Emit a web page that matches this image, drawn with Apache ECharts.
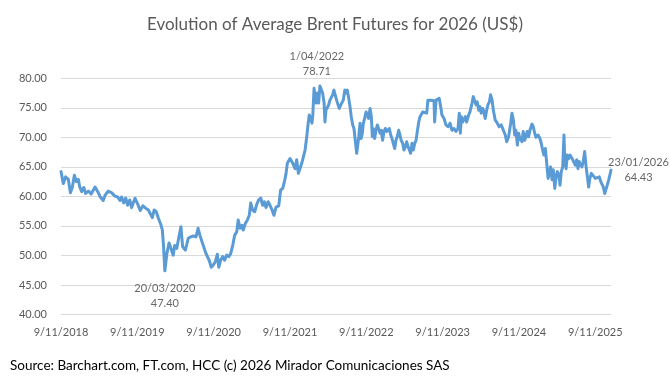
<!DOCTYPE html>
<html>
<head>
<meta charset="utf-8">
<script src="https://cdn.jsdelivr.net/npm/echarts@6/dist/echarts.min.js"></script>
<style>
html,body{margin:0;padding:0;background:#fff;}
#chart{width:670px;height:380px;}
</style>
</head>
<body>
<div id="chart"></div>
<script>
// Days since 9/11/2018 (weekly Friday series)
const dayOffsets = [
  0,11,22,35,45,54,64,73,83,89,
  99,109,118,131,144,155,163,176,188,202,
  211,226,243,258,271,282,290,300,310,319,
  329,338,354,367,379,392,405,418,427,437,
  446,456,466,479,485,490,497,507,517,526,
  537,
  544,554,563,574,582,595,609,621,633,646,
  656,665,675,684,694,703,710,719,729,738,
  748,755,764,774,783,793,803,812,822,831,
  841,848,857,866,872,882,892,901,908,917,
  927,937,946,956,965,973,981,991,1000,1010,
  1019,1029,1042,1051,1061,1071,1077,1083,1090,
  1096,1109,1120,1128,1136,1144,1152,1160,1168,1176,
  1183,1188,1195,1201,1205,1211,1216,1220,1227,1233,
  1239,1246,1252,1259,1263,1268,1274,1281,1287,1294,
  1300,1306,1313,1319,1326,1332,1339,1345,1351,1358,
  1364,1370,1377,1383,1389,1396,1402,1408,1415,1420,
  1425,1431,1436,1442,1447,1453,1460,1466,1472,1479,
  1485,1490,1494,1501,1507,1514,1520,1527,1533,1539,
  1546,1552,1559,1565,1571,1578,1584,1590,1597,1603,
  1609,1616,1622,1628,1635,1641,1648,1654,1661,1667,
  1673,1680,1686,1693,1699,1705,1712,
  1718,1731,1740,1750,1756,1766,1775,1785,1788,1795,
  1804,1810,1817,1823,1833,1842,1852,1862,1871,1881,
  1890,1900,1906,1911,1916,1922,1929,1935,1941,1951,
  1957,1967,1973,1980,1986,1992,1999,2005,2011,2018,
  2024,2030,2037,2043,2050,2056,2063,2069,2078,2088,
  2097,2107,2117,2126,2133,2142,2152,2158,2165,2171,
  2177,2184,2190,
  2196,2206,2212,2219,2225,2231,2238,2244,2254,2260,
  2267,2273,2283,2292,2298,2305,2311,2318,2324,2331,
  2337,2343,2350,2356,2363,2369,2375,2382,2388,2394,
  2401,2407,2410,2417,2423,2430,2436,2442,2449,2455,
  2461,2468,2474,2480,2487,2493,2499,2506,2512,2519,
  2525,2531,2538,2547,2557,2566,2576,2583,2589,2595,
  2602,2608,2614,2621,2632
];
// Average Brent futures for 2026 (US$)
const prices = [
  64.2,62.2,63.3,62.9,60.6,61.5,63.6,62.5,62.9,61.7,
  60.8,61.5,60.5,60.9,60.4,61.1,61.6,60.8,59.9,59.3,
  60.2,60.9,60.6,60.05,59.9,59.3,59.9,58.9,59.7,58.5,
  59.4,58.1,59.7,58.7,57.6,58.4,58.0,57.7,58.0,56.4,
  57.7,57.4,56.3,55.1,54.3,52.0,47.4,50.4,52.1,51.2,
  50.05,
  51.7,51.2,52.9,54.85,51.5,50.9,52.9,53.15,53.3,53.15,
  54.6,53.4,52.3,52.0,50.3,50.4,49.1,48.0,48.4,48.9,
  50.2,48.0,49.2,49.8,49.2,50.05,49.8,50.3,51.75,53.4,
  54.0,56.0,54.6,55.1,54.3,55.4,56.0,56.8,58.9,57.7,
  57.4,58.7,59.4,59.7,58.5,59.1,58.1,59.1,58.5,57.7,
  56.8,58.2,58.4,61.1,61.35,62.8,63.9,65.6,65.9,
  66.4,65.6,64.7,66.2,63.9,63.6,65.6,66.7,67.85,70.1,
  72.4,73.8,73.2,72.4,73.8,78.3,78.6,75.8,77.5,75.8,
  78.71,78.6,77.5,75.8,72.6,74.6,74.9,75.5,76.3,76.6,
  77.2,78.0,77.7,76.3,75.5,74.9,75.5,75.2,76.3,78.0,
  77.5,78.0,76.6,75.2,73.5,72.1,71.5,71.5,67.3,67.3,
  70.1,72.4,69.8,70.7,72.4,73.2,74.3,73.8,73.2,74.9,
  73.5,70.1,71.5,69.8,71.2,72.1,72.4,70.7,71.2,69.5,
  71.0,71.5,71.0,71.2,71.5,70.4,69.8,69.0,68.1,69.5,
  70.1,71.2,70.4,69.5,69.0,67.85,68.4,69.25,68.4,68.1,
  67.3,69.0,67.85,69.0,69.5,71.0,72.6,
  73.5,74.3,74.6,74.1,76.3,76.3,76.4,76.2,72.6,76.3,
  76.6,76.6,75.2,73.8,73.2,72.1,71.8,72.4,71.2,71.5,
  71.0,71.5,74.1,70.7,73.5,72.6,72.4,73.5,72.6,73.8,
  74.3,75.8,76.9,76.6,75.5,76.0,74.6,75.2,74.1,74.9,
  74.3,73.2,74.6,75.5,76.0,77.2,76.3,74.6,72.9,72.4,
  71.8,72.1,71.2,70.4,69.25,70.1,72.4,74.1,72.9,70.4,
  71.2,68.7,70.7,
  69.8,69.25,71.0,69.5,70.1,71.0,70.1,71.2,72.25,71.8,
  70.7,70.0,70.4,69.8,69.0,67.85,67.0,68.1,68.4,63.05,
  62.8,65.0,62.8,64.5,61.35,63.3,64.2,63.6,61.9,64.2,
  65.0,70.4,66.7,64.7,67.0,66.4,67.0,66.7,66.2,66.4,
  65.3,66.2,64.7,65.9,65.6,65.0,65.9,67.6,65.3,63.3,
  61.6,63.05,63.9,63.6,63.05,62.8,63.3,62.5,62.8,61.6,
  60.5,60.8,61.9,62.8,64.43
];
const xTickLabels = ['9/11/2018','9/11/2019','9/11/2020','9/11/2021','9/11/2022','9/11/2023','9/11/2024','9/11/2025'];
const yMin = 40, yMax = 80, yStep = 5;
const startUTC = Date.UTC(2018, 10, 9);
const YEAR_DAYS = 365.25;

function fmtDate(day) {
  const d = new Date(startUTC + day * 86400000);
  return d.getUTCDate() + '/' + String(d.getUTCMonth() + 1).padStart(2, '0') + '/' + d.getUTCFullYear();
}

const lineData = dayOffsets.map((d, i) => [d, prices[i]]);
let iMin = 0, iMax = 0;
prices.forEach((v, i) => { if (v < prices[iMin]) iMin = i; if (v > prices[iMax]) iMax = i; });
const iLast = prices.length - 1;

const FONT = 'Lato';
const annot = [
  { value: lineData[iMax], label: { position: 'top', distance: 6, offset: [-3, 0] } },
  { value: lineData[iMin], label: { position: 'bottom', distance: 10 } },
  { value: lineData[iLast], label: { position: 'right', distance: 0, offset: [27, 0], align: 'center' } }
];

const chart = echarts.init(document.getElementById('chart'), null, { renderer: 'canvas' });
chart.setOption({
  animation: false,
  backgroundColor: '#ffffff',
  title: {
    text: 'Evolution of Average Brent Futures for 2026 (US$)',
    left: 'center',
    top: 11,
    textStyle: { fontFamily: FONT, fontSize: 17, fontWeight: 'normal', color: '#595959' }
  },
  grid: { left: 61, right: 59, top: 78.3, bottom: 65.5, containLabel: false },
  xAxis: {
    type: 'value',
    min: 0,
    max: dayOffsets[dayOffsets.length - 1],
    interval: YEAR_DAYS,
    axisLine: { show: true, lineStyle: { color: '#D9D9D9', width: 1 } },
    axisTick: { show: false },
    splitLine: { show: false },
    axisLabel: {
      showMaxLabel: false,
      margin: 12,
      fontFamily: FONT, fontSize: 11, color: '#595959',
      formatter: v => xTickLabels[Math.round(v / YEAR_DAYS)] || ''
    }
  },
  yAxis: {
    type: 'value',
    min: yMin, max: yMax, interval: yStep,
    axisLine: { show: false },
    axisTick: { show: false },
    splitLine: { lineStyle: { color: '#D9D9D9', width: 1 } },
    axisLabel: {
      margin: 14,
      fontFamily: FONT, fontSize: 11, color: '#595959',
      formatter: v => v.toFixed(2)
    }
  },
  series: [
    {
      type: 'line',
      data: lineData,
      showSymbol: false,
      symbol: 'none',
      lineStyle: { color: '#5B9BD5', width: 3, join: 'round', cap: 'round' },
      z: 2
    },
    {
      type: 'scatter',
      data: annot,
      symbolSize: 1,
      itemStyle: { color: 'rgba(0,0,0,0)' },
      label: {
        show: true,
        fontFamily: FONT, fontSize: 11, color: '#404040', lineHeight: 15,
        align: 'center',
        formatter: p => fmtDate(p.value[0]) + '\n' + p.value[1].toFixed(2)
      },
      z: 3
    }
  ],
  graphic: [
    {
      type: 'text',
      left: 10,
      top: 359,
      style: {
        text: 'Source: Barchart.com, FT.com, HCC (c) 2026 Mirador Comunicaciones SAS',
        font: '13.5px Lato',
        fill: '#000000'
      }
    }
  ]
});
</script>
</body>
</html>
